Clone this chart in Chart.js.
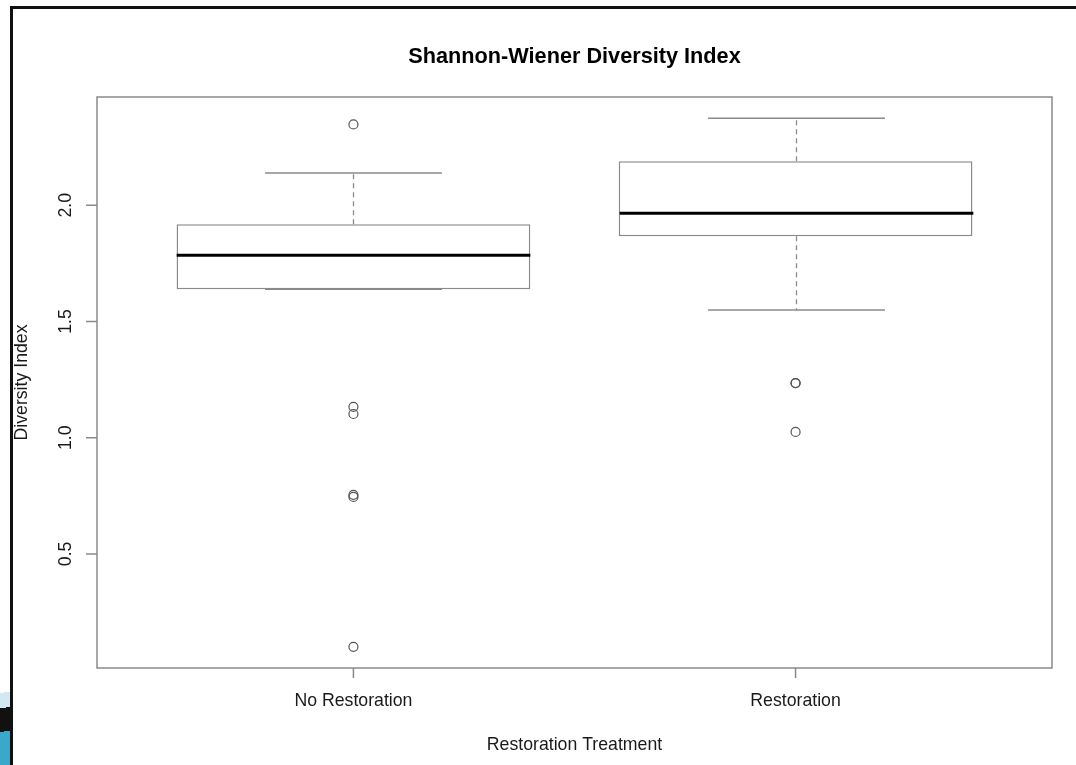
<!DOCTYPE html>
<html>
<head>
<meta charset="utf-8">
<title>Shannon-Wiener Diversity Index</title>
<script src="https://cdn.jsdelivr.net/npm/chart.js@4.4.1/dist/chart.umd.min.js"></script>
<style>
  html, body { margin: 0; padding: 0; background: #fff; overflow: hidden; }
  #wrap { position: relative; width: 1076px; height: 765px; }
  #wrap canvas { position: absolute; left: 0; top: 0; }
  .slide { position: absolute; background: #111; }
  #slideTop { left: 11px; top: 6px; width: 1065px; height: 3px; }
  #slideLeft { left: 10px; top: 6px; width: 3px; height: 759px; }
  #swoosh {
    position: absolute; left: 0; top: 690px; width: 10px; height: 75px;
    background: linear-gradient(172deg, rgba(0,0,0,0) 0 4%, #d3e9f1 4% 24%, #111 24% 55%, #3aa8c9 55% 100%);
  }
</style>
</head>
<body>
<div id="wrap">
  <canvas id="boxChart" width="1076" height="765"></canvas>
  <div id="slideTop" class="slide"></div>
  <div id="slideLeft" class="slide"></div>
  <div id="swoosh"></div>
</div>
<script>
// ---- data ----
const categories   = ['No Restoration', 'Restoration'];
const groupPos     = [1, 2];
const lowerWhisker = [1.639, 1.549];
const q1           = [1.639, 1.867];
const median       = [1.785, 1.966];
const q3           = [1.918, 2.189];
const upperWhisker = [2.139, 2.375];
const outliersNoRestoration = [2.348, 1.133, 1.102, 0.754, 0.745, 0.10];
const outliersRestoration   = [1.235, 1.235, 1.025];
const yTicks = [0.5, 1.0, 1.5, 2.0];

const chartTitle = 'Shannon-Wiener Diversity Index';
const xTitle = 'Restoration Treatment';
const yTitle = 'Diversity Index';

// ---- styling ----
const FONT = '"Liberation Sans", Arial, Helvetica, sans-serif';
const lineGray = '#8a8a8a';
const textColor = '#1a1a1a';

// draws whiskers, caps, medians, frame, axes and texts like R's boxplot()
const rBoxplot = {
    id: 'rBoxplot',
    afterDatasetsDraw(chart) {
        const ctx = chart.ctx;
        const y = chart.scales.y;
        const bars = chart.getDatasetMeta(0).data;

        ctx.save();
        bars.forEach((bar, i) => {
            const cx = Math.round(bar.x) + 0.5;
            const half = bar.width / 2;

            // whiskers
            ctx.strokeStyle = lineGray;
            ctx.lineWidth = 1.3;
            ctx.setLineDash([5, 4]);
            ctx.beginPath();
            ctx.moveTo(cx, y.getPixelForValue(q3[i]));
            ctx.lineTo(cx, y.getPixelForValue(upperWhisker[i]));
            ctx.moveTo(cx, y.getPixelForValue(q1[i]));
            ctx.lineTo(cx, y.getPixelForValue(lowerWhisker[i]));
            ctx.stroke();

            // caps (half the box width)
            ctx.setLineDash([]);
            ctx.lineWidth = 1.5;
            ctx.beginPath();
            [upperWhisker[i], lowerWhisker[i]].forEach(v => {
                const py = y.getPixelForValue(v);
                ctx.moveTo(cx - half / 2, py);
                ctx.lineTo(cx + half / 2, py);
            });
            ctx.stroke();

            // median
            ctx.strokeStyle = '#000';
            ctx.lineWidth = 3;
            ctx.beginPath();
            const pm = y.getPixelForValue(median[i]);
            ctx.moveTo(cx - half, pm);
            ctx.lineTo(cx + half, pm);
            ctx.stroke();
        });
        ctx.restore();
    },
    afterDraw(chart) {
        const ctx = chart.ctx;
        const area = chart.chartArea;
        const x = chart.scales.x;
        const y = chart.scales.y;
        const midX = (area.left + area.right) / 2;
        const midY = (area.top + area.bottom) / 2;

        ctx.save();
        // plot frame
        ctx.strokeStyle = lineGray;
        ctx.lineWidth = 1.5;
        ctx.strokeRect(area.left, area.top, area.right - area.left, area.bottom - area.top);

        // tick marks
        ctx.fillStyle = textColor;
        ctx.font = '17.7px ' + FONT;
        ctx.textAlign = 'center';
        ctx.textBaseline = 'middle';
        ctx.beginPath();
        yTicks.forEach(v => {
            const py = y.getPixelForValue(v);
            ctx.moveTo(area.left, py);
            ctx.lineTo(area.left - 11, py);
        });
        groupPos.forEach(p => {
            const px = x.getPixelForValue(p);
            ctx.moveTo(px, area.bottom);
            ctx.lineTo(px, area.bottom + 10);
        });
        ctx.stroke();

        // rotated y labels
        yTicks.forEach(v => {
            ctx.save();
            ctx.translate(area.left - 31, y.getPixelForValue(v));
            ctx.rotate(-Math.PI / 2);
            ctx.fillText(v.toFixed(1), 0, 0);
            ctx.restore();
        });

        // x axis labels
        groupPos.forEach((p, i) => {
            ctx.fillText(categories[i], x.getPixelForValue(p), area.bottom + 33);
        });

        // axis titles
        ctx.fillText(xTitle, midX, area.bottom + 77);
        ctx.save();
        ctx.translate(22, midY);
        ctx.rotate(-Math.PI / 2);
        ctx.fillText(yTitle, 0, 0);
        ctx.restore();

        // main title
        ctx.fillStyle = '#000';
        ctx.font = 'bold 21.7px ' + FONT;
        ctx.fillText(chartTitle, midX, 57);
        ctx.restore();
    }
};

const outlierPoints = [
    ...outliersNoRestoration.map(v => ({ x: groupPos[0], y: v })),
    ...outliersRestoration.map(v => ({ x: groupPos[1], y: v }))
];

new Chart(document.getElementById('boxChart'), {
    type: 'bar',
    data: {
        datasets: [
            {
                type: 'bar',
                data: groupPos.map((p, i) => ({ x: p, y: [q1[i], q3[i]] })),
                backgroundColor: '#fff',
                borderColor: lineGray,
                borderWidth: 1.5,
                borderSkipped: false,
                barPercentage: 0.8,
                categoryPercentage: 1
            },
            {
                type: 'scatter',
                data: outlierPoints,
                pointStyle: 'circle',
                pointRadius: 4.5,
                pointBorderWidth: 1.2,
                pointBorderColor: '#555',
                pointBackgroundColor: 'rgba(0,0,0,0)'
            }
        ]
    },
    options: {
        responsive: false,
        animation: false,
        events: [],
        layout: { padding: { left: 97, top: 97, right: 24, bottom: 97 } },
        plugins: { legend: { display: false }, tooltip: { enabled: false } },
        scales: {
            x: {
                type: 'linear',
                display: false,
                offset: false,
                min: 0.42,
                max: 2.58,
                afterBuildTicks: s => { s.ticks = groupPos.map(v => ({ value: v })); }
            },
            y: {
                type: 'linear',
                display: false,
                min: 0.009,
                max: 2.466,
                afterBuildTicks: s => { s.ticks = yTicks.map(v => ({ value: v })); }
            }
        }
    },
    plugins: [rBoxplot]
});
</script>
</body>
</html>
